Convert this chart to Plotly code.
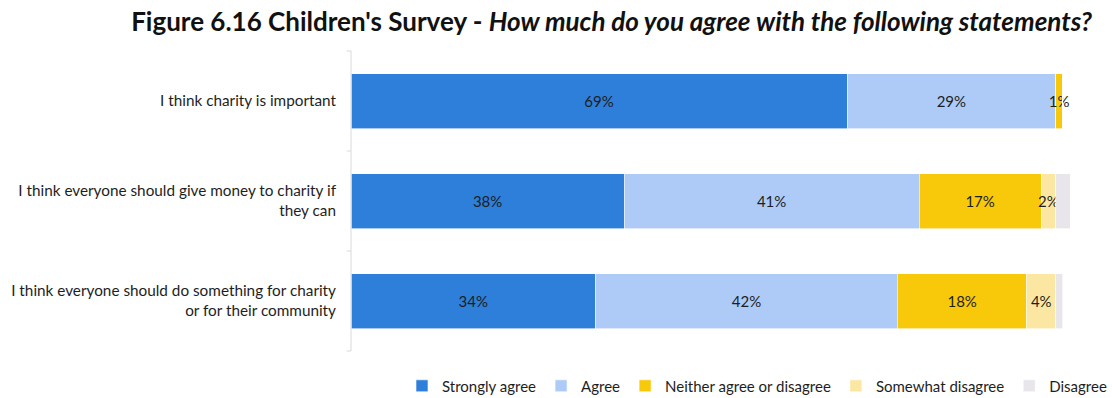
import plotly.graph_objects as go

# Survey statements (top to bottom)
statements = [
    "I think charity is important",
    "I think everyone should give money to charity if<br>they can",
    "I think everyone should do something for charity<br>or for their community",
]

# Response shares (%) per statement
strongly_agree = [69, 38, 34]
agree = [29, 41, 42]
neither = [1, 17, 18]
somewhat_disagree = [0, 2, 4]
disagree = [0, 2, 1]

# Data labels shown on each segment ("" = no label)
strongly_agree_lbl = ["69%", "38%", "34%"]
agree_lbl = ["29%", "41%", "42%"]
neither_lbl = ["1%", "17%", "18%"]
somewhat_lbl = ["", "2%", "4%"]
disagree_lbl = ["", "", ""]

series = [
    ("Strongly agree", strongly_agree, strongly_agree_lbl, "#2D7FD9"),
    ("Agree", agree, agree_lbl, "#ADCBF6"),
    ("Neither agree or disagree", neither, neither_lbl, "#F8C80A"),
    ("Somewhat disagree", somewhat_disagree, somewhat_lbl, "#FCE7A2"),
    ("Disagree", disagree, disagree_lbl, "#E8E6EB"),
]

FONT = "Lato, sans-serif"

fig = go.Figure()
for name, vals, lbls, color in series:
    fig.add_trace(go.Bar(
        name=name,
        y=statements,
        x=vals,
        orientation="h",
        text=lbls,
        textposition="inside",
        insidetextanchor="middle",
        textangle=0,
        textfont=dict(family=FONT, size=15, color="#1e1e1e"),
        marker=dict(color=color, line=dict(color="white", width=0.6)),
        cliponaxis=False,
        hoverinfo="skip",
    ))

# Axis line and category-boundary ticks on the left edge of the plot
fig.add_shape(type="line", xref="paper", yref="paper", x0=0, x1=0, y0=0, y1=1,
              line=dict(color="#D9D9D9", width=1))
for b in [0, 1 / 3, 2 / 3, 1]:
    fig.add_shape(type="line", xref="paper", yref="paper", x0=-0.006, x1=0, y0=b, y1=b,
                  line=dict(color="#D9D9D9", width=1))

fig.update_layout(
    barmode="stack",
    bargap=0.45,
    width=1112,
    height=398,
    margin=dict(l=351, r=42, t=51, b=47, autoexpand=False),
    paper_bgcolor="white",
    plot_bgcolor="white",
    font=dict(family=FONT, size=15, color="#1e1e1e"),
    uniformtext=dict(minsize=15, mode="show"),
    title=dict(
        text="<b>Figure 6.16 Children's Survey - <i>How much do you agree with the following statements?</i></b>",
        font=dict(family=FONT, size=26, color="#111111"),
        x=0.55, xanchor="center", xref="container",
        y=0.945, yanchor="middle", yref="container",
    ),
    xaxis=dict(range=[0, 100], visible=False, fixedrange=True),
    yaxis=dict(
        autorange="reversed",
        showline=False,
        showgrid=False,
        ticks="",
        ticklabelstandoff=14,
        tickfont=dict(family=FONT, size=15.3, color="#1e1e1e"),
    ),
    legend=dict(
        orientation="h",
        xref="container", x=1.0, xanchor="right",
        yref="container", y=0.03, yanchor="middle",
        font=dict(family=FONT, size=15, color="#1e1e1e"),
        itemwidth=30,
        traceorder="normal",
    ),
    showlegend=True,
)

fig.write_html("out.html")
